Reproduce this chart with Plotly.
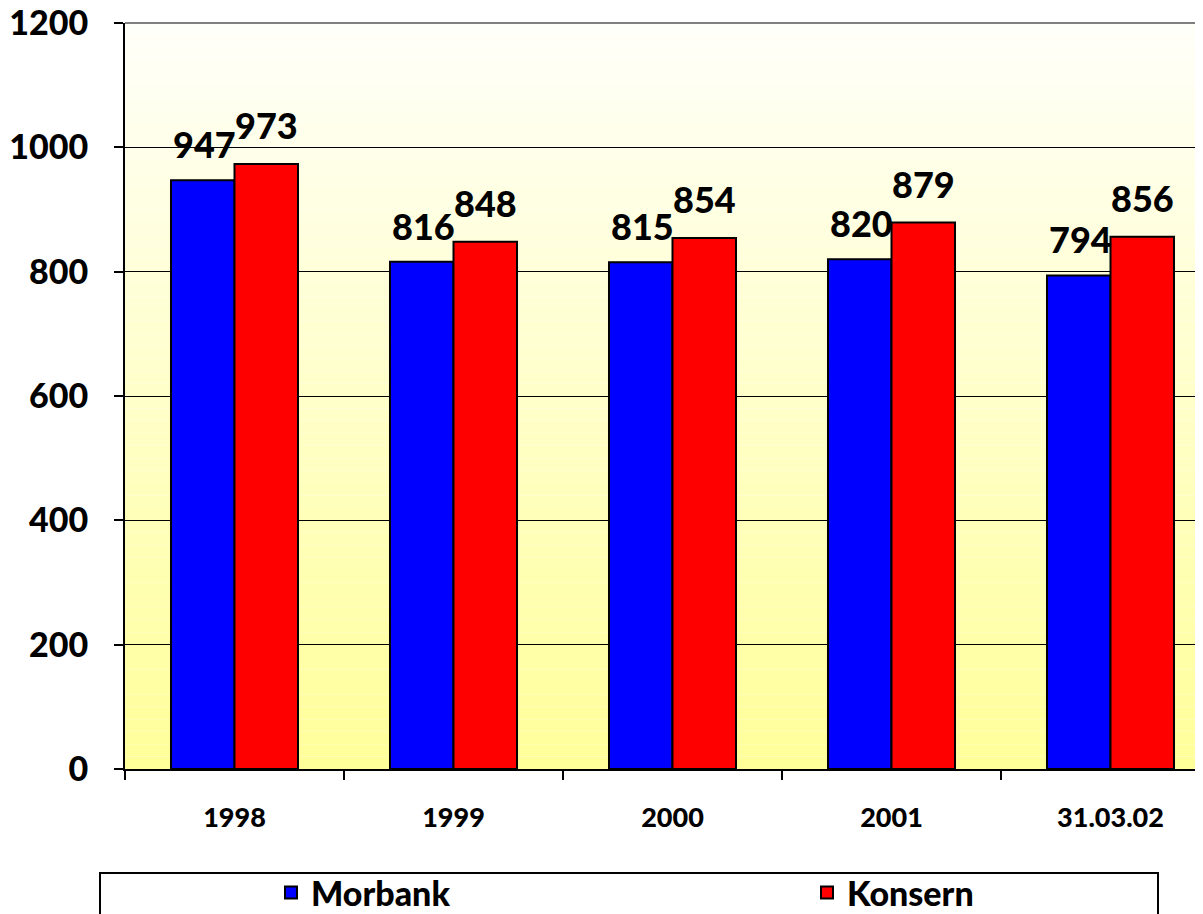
import plotly.graph_objects as go

categories = ["1998", "1999", "2000", "2001", "31.03.02"]
morbank = [947, 816, 815, 820, 794]
konsern = [973, 848, 854, 879, 856]
y_ticks = [0, 200, 400, 600, 800, 1000, 1200]

FONT = "Lato, 'Open Sans', sans-serif"
W, H = 1203, 914
OFF = 8  # the page body adds an 8px margin, so work in screen px minus 8
L = 125 - OFF
T = 23 - OFF
B = H - (769 - OFF)
R = OFF
plot_w = W - L - R
plot_h = H - T - B
cat_px = 219  # pixel width of one category in the original


def px_x(sx):
    return (sx - OFF - L) / plot_w


def px_y(sy):
    return (H - B - (sy - OFF)) / plot_h


fig = go.Figure()
fig.add_trace(go.Bar(
    x=categories, y=morbank, name="Morbank", legend="legend",
    marker=dict(color="#0000FF", line=dict(color="black", width=2)),
))
fig.add_trace(go.Bar(
    x=categories, y=konsern, name="Konsern", legend="legend2",
    marker=dict(color="#FF0000", line=dict(color="black", width=2)),
))

# value labels above each bar (x given as category position on the axis)
bar_px = cat_px * 0.58 / 2
annots = []
for vals, sh, ys in ((morbank, -bar_px / 2 + 2, 12), (konsern, bar_px / 2, 15)):
    for i, v in enumerate(vals):
        annots.append(dict(
            x=i, y=v, xref="x", yref="y", text=str(v),
            showarrow=False, xshift=sh, yshift=ys, yanchor="bottom",
            font=dict(family=FONT, size=36, color="black", weight=900),
        ))

# gradient plot background: light yellow at the bottom to near white at the top
shapes = []
n = 60
top, bot = (255, 255, 250), (255, 255, 153)
for i in range(n):
    f = (i + 0.5) / n
    col = tuple(round(bot[k] + (top[k] - bot[k]) * f) for k in range(3))
    shapes.append(dict(
        type="rect", xref="paper", yref="paper",
        x0=0, x1=1, y0=i / n, y1=(i + 1) / n,
        fillcolor="rgb(%d,%d,%d)" % col, line=dict(width=0), layer="below",
    ))
# grey top border
shapes.append(dict(type="line", xref="paper", yref="paper", x0=0, x1=1, y0=1, y1=1,
                   line=dict(color="#808080", width=2), layer="above"))
# legend frame
shapes.append(dict(type="rect", xref="paper", yref="paper",
                   x0=px_x(100), x1=px_x(1158), y0=px_y(873), y1=px_y(960),
                   line=dict(color="black", width=2), fillcolor="rgba(0,0,0,0)"))

leg_y = px_y(893)
leg_font = dict(family=FONT, size=34, color="black", weight=900)

fig.update_layout(
    width=W, height=H,
    margin=dict(l=L, r=R, t=T, b=B, autoexpand=False),
    paper_bgcolor="white",
    plot_bgcolor="rgba(0,0,0,0)",
    barmode="group", bargap=0.42, bargroupgap=0,
    annotations=annots,
    shapes=shapes,
    showlegend=True,
    legend=dict(x=px_x(271), xanchor="left", y=leg_y, yanchor="middle",
                font=leg_font, bgcolor="rgba(0,0,0,0)", borderwidth=0),
    legend2=dict(x=px_x(807), xanchor="left", y=leg_y, yanchor="middle",
                 font=leg_font, bgcolor="rgba(0,0,0,0)", borderwidth=0),
    xaxis=dict(
        type="category",
        range=[-0.5, -0.5 + plot_w / cat_px],
        showline=True, linecolor="black", linewidth=2,
        ticks="outside", tickson="boundaries", ticklen=9, tickwidth=2, tickcolor="black",
        ticklabelstandoff=24,
        tickfont=dict(family=FONT, size=27, color="black", weight=900),
        showgrid=False, zeroline=False,
    ),
    yaxis=dict(
        range=[0, 1200.01], tickvals=y_ticks,
        showline=True, linecolor="black", linewidth=2,
        ticks="outside", ticklen=9, tickwidth=2, tickcolor="black",
        ticklabelstandoff=19, ticklabeloverflow="allow",
        tickfont=dict(family=FONT, size=34, color="black", weight=900),
        showgrid=True, gridcolor="black", gridwidth=1, zeroline=False,
    ),
)

fig.write_html("out.html")
